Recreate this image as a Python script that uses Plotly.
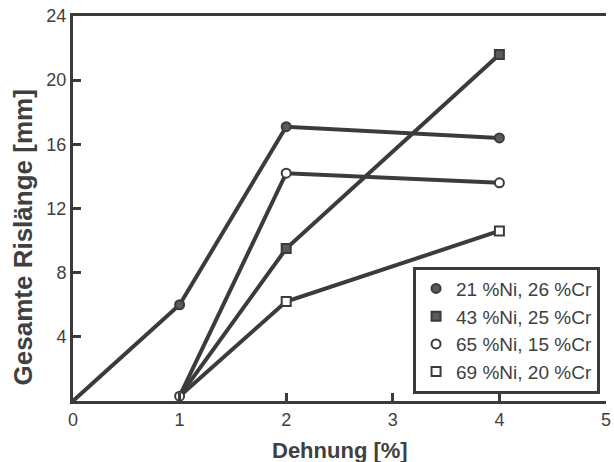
import plotly.graph_objects as go

# Measured total crack length vs. strain for four Ni/Cr alloys
series_names = ["21 %Ni, 26 %Cr", "43 %Ni, 25 %Cr", "65 %Ni, 15 %Cr", "69 %Ni, 20 %Cr"]
strain_1 = [0, 1, 2, 4]
length_1 = [0, 6.0, 17.1, 16.4]
strain_2 = [1, 2, 4]
length_2 = [0.3, 9.5, 21.6]
strain_3 = [1, 2, 4]
length_3 = [0.3, 14.2, 13.6]
strain_4 = [1, 2, 4]
length_4 = [0.3, 6.2, 10.6]

x_ticks = [0, 1, 2, 3, 4, 5]
y_ticks = [4, 8, 12, 16, 20, 24]

INK = "#3b3b3b"
TEXT = "#404040"
FONT = "Liberation Sans, Arial, sans-serif"

xs = [strain_1, strain_2, strain_3, strain_4]
ys = [length_1, length_2, length_3, length_4]
symbols = ["circle", "square", "circle", "square"]
fills = ["#5a5a5a", "#5a5a5a", "white", "white"]
# the shared start point at 1 % only carries the open-circle marker
first_marker = [1, 1, 0, 1]

fig = go.Figure()

for x, y in zip(xs, ys):
    fig.add_trace(go.Scatter(x=x, y=y, mode="lines",
                             line=dict(color=INK, width=4),
                             showlegend=False, hoverinfo="skip"))

for i, (x, y) in enumerate(zip(xs, ys)):
    s = first_marker[i]
    fig.add_trace(go.Scatter(
        x=x[s:], y=y[s:], mode="markers", name=series_names[i],
        legendgroup=series_names[i],
        marker=dict(symbol=symbols[i], size=9,
                    color=fills[i], line=dict(color=INK, width=2)),
        cliponaxis=False))

fig.update_layout(
    width=614, height=462,
    margin=dict(l=73, r=3, t=16, b=61),
    paper_bgcolor="white", plot_bgcolor="white",
    font=dict(family=FONT, color=TEXT, size=18),
    showlegend=True,
    legend=dict(x=0.638, y=0.349, xanchor="left", yanchor="top",
                bgcolor="white", bordercolor=INK, borderwidth=3,
                font=dict(family=FONT, size=19, color=TEXT),
                traceorder="grouped", tracegroupgap=0,
                itemwidth=30),
    xaxis=dict(range=[0, 5], tickvals=x_ticks, ticktext=[str(v) for v in x_ticks],
               showgrid=False, zeroline=False,
               showline=True, linecolor=INK, linewidth=3, mirror=True,
               ticks="inside", ticklen=8, tickwidth=3, tickcolor=INK,
               ticklabeloverflow="allow",
               tickfont=dict(size=18, color=TEXT)),
    yaxis=dict(range=[0, 24], tickvals=y_ticks, ticktext=[str(v) for v in y_ticks],
               showgrid=False, zeroline=False,
               showline=True, linecolor=INK, linewidth=3,
               ticks="inside", ticklen=8, tickwidth=3, tickcolor=INK,
               ticklabeloverflow="allow",
               tickfont=dict(size=18, color=TEXT)),
    annotations=[
        dict(text="<b>Gesamte Rislänge [mm]</b>", textangle=-90,
             xref="paper", yref="paper", x=-0.093, y=0.426,
             xanchor="center", yanchor="middle", showarrow=False,
             font=dict(size=26, color=TEXT)),
        dict(text="<b>Dehnung [%]</b>",
             xref="paper", yref="paper", x=0.5, y=-0.128,
             xanchor="center", yanchor="middle", showarrow=False,
             font=dict(size=22, color=TEXT)),
    ],
)

fig.write_html("out.html")
